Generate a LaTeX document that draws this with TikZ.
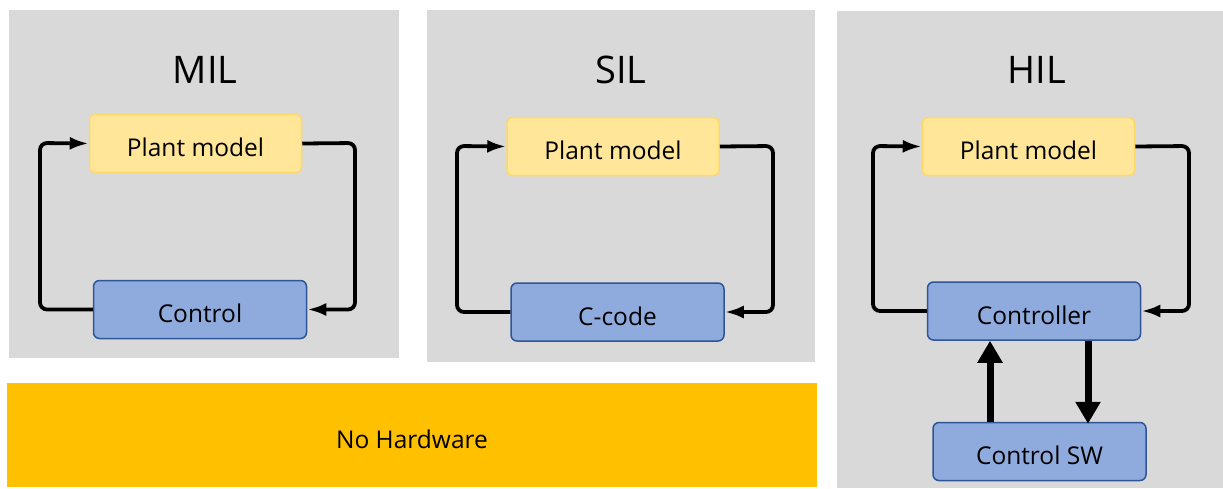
\documentclass[tikz,border=0pt]{standalone}
\usepackage{fontspec}
\setmainfont{Open Sans}
\usetikzlibrary{arrows.meta}
\definecolor{panelgray}{HTML}{D9D9D9}
\definecolor{plantfill}{HTML}{FFE699}
\definecolor{plantline}{HTML}{FFD966}
\definecolor{ctrlfill}{HTML}{8FAADC}
\definecolor{ctrlline}{HTML}{2F5597}
\definecolor{hwfill}{HTML}{FFC000}
\tikzset{
  panel/.style={fill=panelgray, draw=none},
  boxtext/.style={font=\fontsize{24.5}{28}\selectfont, text height=26pt, text depth=0pt, inner sep=0pt},
  plantbox/.style={boxtext, draw=plantline, fill=plantfill, line width=1.5pt, rounded corners=6pt,
    minimum width=212pt, minimum height=58pt},
  ctrlbox/.style={boxtext, draw=ctrlline, fill=ctrlfill, line width=1.5pt, rounded corners=6pt,
    minimum width=213pt, minimum height=58pt},
  title/.style={font=\fontsize{38}{42}\selectfont, inner sep=0pt},
  loop/.style={line width=3.8pt, rounded corners=7pt, -{Latex[length=19pt,width=13pt]}},
  bigarrow/.style={line width=7pt, -{Triangle[length=22pt,width=24pt]}},
}
\begin{document}
\begin{tikzpicture}[x=1pt,y=-1pt]
  \useasboundingbox (0,0) rectangle (1223,488);
  % background panels
  \fill[panel] (9,10) rectangle (399,358);
  \fill[panel] (427,10) rectangle (815,362);
  \fill[panel] (837,11) rectangle (1223,488);
  \node[boxtext, fill=hwfill, minimum width=810pt, minimum height=104pt] (hw) at (412,435) {No Hardware};

  % titles
  \node[title] (tmil) at (205,70) {MIL};
  \node[title] (tsil) at (621,70) {SIL};
  \node[title] (thil) at (1037,70) {HIL};

  % MIL loop
  \node[plantbox] (p1) at (195.5,143.5) {Plant model};
  \node[ctrlbox] (c1) at (200,309.5) {Control};
  \draw[loop] (c1.west) -| (40,143) -- (p1.west);
  \draw[loop] (p1.east) -- (355,143) |- (c1.east);

  % SIL loop
  \node[plantbox] (p2) at (613,146.5) {Plant model};
  \node[ctrlbox] (c2) at (617.5,312) {C-code};
  \draw[loop] (c2.west) -| (457,146) -- (p2.west);
  \draw[loop] (p2.east) -- (773,146) |- (c2.east);

  % HIL loop
  \node[plantbox] (p3) at (1028.5,146.5) {Plant model};
  \node[ctrlbox] (c3) at (1034,311) {Controller};
  \node[ctrlbox] (sw) at (1039.5,451.5) {Control SW};
  \draw[loop] (c3.west) -| (873,146) -- (p3.west);
  \draw[loop] (p3.east) -- (1189,146) |- (c3.east);
  \draw[bigarrow] (sw.north -| 990,0) -- (c3.south -| 990,0);
  \draw[bigarrow] (c3.south -| 1088,0) -- ([yshift=-2pt]sw.north -| 1088,0);
\end{tikzpicture}
\end{document}
